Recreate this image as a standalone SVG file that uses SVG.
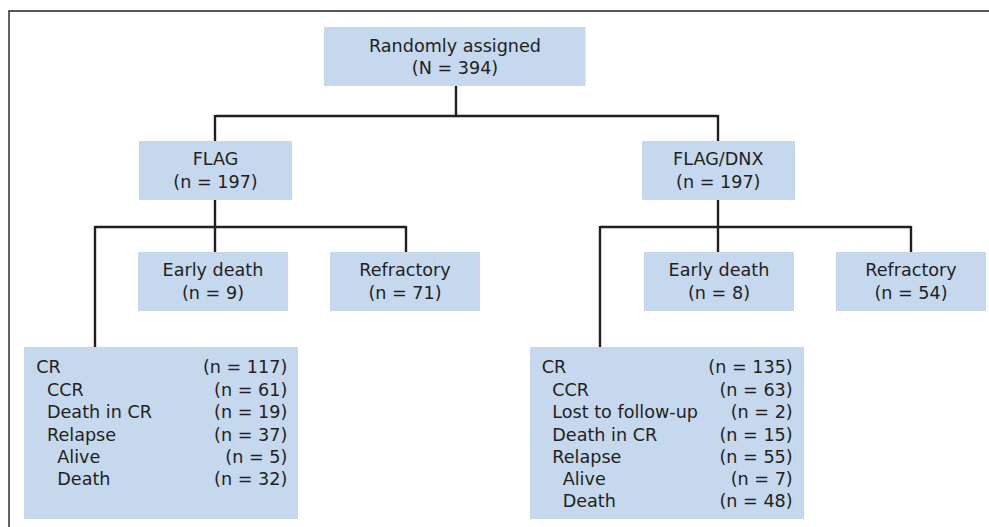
<svg xmlns="http://www.w3.org/2000/svg" width="989" height="527" viewBox="0 0 989 527">
<style>
.box{fill:#c5d8ee}
.t{font-family:"DejaVu Sans",sans-serif;font-size:17.6px;fill:#231f20}
.c{text-anchor:middle}
.r{text-anchor:end}
.ln{stroke:#231f20;stroke-width:2.4;fill:none}
.frame{stroke:#231f20;stroke-width:1.4;fill:none}
</style>
<rect width="989" height="527" fill="#fff"/>
<path class="frame" d="M9,527 V11 H989"/>
<g id="connectors">
<path class="ln" d="M456,86 V116 M215,116 H718 M215,115 V141 M718,115 V141"/>
<path class="ln" d="M215,200 V252 M95,227 H406 M95,226 V347 M406,226 V252"/>
<path class="ln" d="M718,200 V252 M600,227 H911 M600,226 V347 M911,226 V252"/>
</g>
<g id="randomly-assigned">
<rect class="box" x="324" y="27" width="261.5" height="59"/>
<text class="t c" x="455" y="52">Randomly assigned</text>
<text class="t c" x="455" y="74">(N = 394)</text>
</g>
<g id="flag">
<rect class="box" x="139" y="141" width="153" height="59"/>
<text class="t c" x="215.5" y="165">FLAG</text>
<text class="t c" x="215.5" y="187.5">(n = 197)</text>
</g>
<g id="flag-dnx">
<rect class="box" x="642" y="141" width="153" height="59"/>
<text class="t c" x="718.3" y="165">FLAG/DNX</text>
<text class="t c" x="718.3" y="187.5">(n = 197)</text>
</g>
<g id="flag-early-death">
<rect class="box" x="138" y="252" width="150" height="59"/>
<text class="t c" x="213" y="276">Early death</text>
<text class="t c" x="213" y="298.5">(n = 9)</text>
</g>
<g id="flag-refractory">
<rect class="box" x="330" y="252" width="150" height="59"/>
<text class="t c" x="405" y="276">Refractory</text>
<text class="t c" x="405" y="298.5">(n = 71)</text>
</g>
<g id="dnx-early-death">
<rect class="box" x="644" y="252" width="150" height="59"/>
<text class="t c" x="719" y="276">Early death</text>
<text class="t c" x="719" y="298.5">(n = 8)</text>
</g>
<g id="dnx-refractory">
<rect class="box" x="836" y="252" width="150" height="59"/>
<text class="t c" x="911" y="276">Refractory</text>
<text class="t c" x="911" y="298.5">(n = 54)</text>
</g>
<g id="flag-cr">
<rect class="box" x="24" y="347" width="274" height="172"/>
<text class="t" x="36.3" y="373.3">CR</text>
<text class="t r" x="287.3" y="373.3">(n = 117)</text>
<text class="t" x="47" y="396">CCR</text>
<text class="t r" x="287.3" y="396">(n = 61)</text>
<text class="t" x="47" y="418.3">Death in CR</text>
<text class="t r" x="287.3" y="418.3">(n = 19)</text>
<text class="t" x="47" y="440.7">Relapse</text>
<text class="t r" x="287.3" y="440.7">(n = 37)</text>
<text class="t" x="57.3" y="462.7">Alive</text>
<text class="t r" x="287.3" y="462.7">(n = 5)</text>
<text class="t" x="57.3" y="485">Death</text>
<text class="t r" x="287.3" y="485">(n = 32)</text>
</g>
<g id="dnx-cr">
<rect class="box" x="530" y="347" width="274" height="172"/>
<text class="t" x="541.7" y="373.3">CR</text>
<text class="t r" x="792.7" y="373.3">(n = 135)</text>
<text class="t" x="552.3" y="396">CCR</text>
<text class="t r" x="792.7" y="396">(n = 63)</text>
<text class="t" x="552.3" y="418.3">Lost to follow-up</text>
<text class="t r" x="792.7" y="418.3">(n = 2)</text>
<text class="t" x="552.3" y="440.7">Death in CR</text>
<text class="t r" x="792.7" y="440.7">(n = 15)</text>
<text class="t" x="552.3" y="462.7">Relapse</text>
<text class="t r" x="792.7" y="462.7">(n = 55)</text>
<text class="t" x="562.7" y="485">Alive</text>
<text class="t r" x="792.7" y="485">(n = 7)</text>
<text class="t" x="562.7" y="507.3">Death</text>
<text class="t r" x="792.7" y="507.3">(n = 48)</text>
</g>
</svg>
